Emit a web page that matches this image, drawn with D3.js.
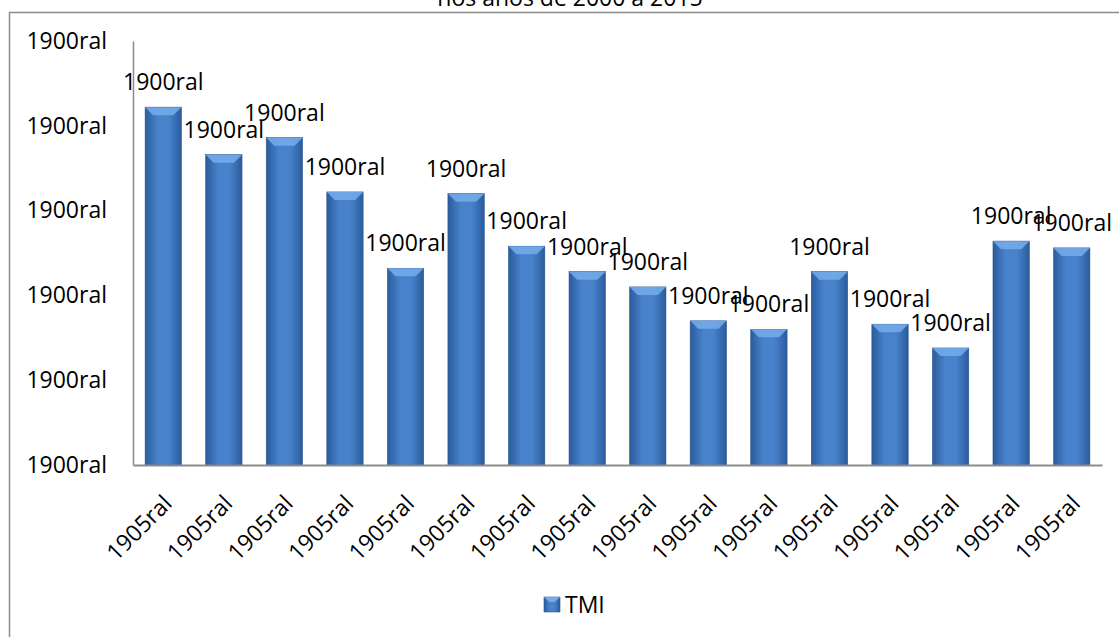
<!DOCTYPE html>
<html>
<head>
<meta charset="utf-8">
<script src="https://cdn.jsdelivr.net/npm/d3@7"></script>
<style>
  body { margin: 0; background: #fff; }
  text { font-family: 'Open Sans', sans-serif; fill: #000; }
</style>
</head>
<body>
<div class="chart-container"></div>
<script>
// data
const categories = ['2000', '2001', '2002', '2003', '2004', '2005', '2006', '2007',
  '2008', '2009', '2010', '2011', '2012', '2013', '2014', '2015'];
const tmiValues = [21.1, 18.3, 19.3, 16.1, 11.6, 16.0, 12.9, 11.4,
  10.5, 8.5, 8.0, 11.4, 8.3, 6.9, 13.2, 12.8];
const xTickLabels = categories.map(() => '1905ral');
const yTickValues = [0, 5, 10, 15, 20, 25];
const yTickLabels = ['1900ral', '1900ral', '1900ral', '1900ral', '1900ral', '1900ral'];
const valueLabels = tmiValues.map(() => '1900ral');
const seriesName = 'TMI';
const titleText = 'nos anos de 2000 a 2015';

const width = 1119;
const height = 637;
const margin = { top: 41, right: 17, bottom: 172, left: 133 };
const plotWidth = width - margin.left - margin.right;
const plotHeight = height - margin.top - margin.bottom;

const svg = d3.select('.chart-container')
    .append('svg')
    .attr('width', width)
    .attr('height', height);

const defs = svg.append('defs');
const grad = defs.append('linearGradient')
    .attr('id', 'barGrad')
    .attr('x1', '0%').attr('x2', '100%')
    .attr('y1', '0%').attr('y2', '0%');
grad.append('stop').attr('offset', '0%').attr('stop-color', '#2b5c9c');
grad.append('stop').attr('offset', '35%').attr('stop-color', '#4782cb');
grad.append('stop').attr('offset', '65%').attr('stop-color', '#4782cb');
grad.append('stop').attr('offset', '100%').attr('stop-color', '#2b5c9c');

// outer frame (top + left only visible)
svg.append('line')
    .attr('x1', 9).attr('x2', width)
    .attr('y1', 12.5).attr('y2', 12.5)
    .attr('stroke', '#8c8c8c').attr('stroke-width', 1.5);
svg.append('line')
    .attr('x1', 9.5).attr('x2', 9.5)
    .attr('y1', 12).attr('y2', height)
    .attr('stroke', '#8c8c8c').attr('stroke-width', 1.5);

// title (clipped at top)
svg.append('text')
    .attr('x', 570)
    .attr('y', 6)
    .style('text-anchor', 'middle')
    .style('font-size', '23px')
    .text(titleText);

const g = svg.append('g')
    .attr('transform', `translate(${margin.left}, ${margin.top})`);

// scales
const xScale = d3.scaleBand()
    .domain(categories)
    .range([0, plotWidth])
    .paddingInner(0.4)
    .paddingOuter(0.2);

const yScale = d3.scaleLinear()
    .domain([0, 25])
    .range([plotHeight, 0]);

// axes
const yAxis = d3.axisLeft(yScale)
    .tickValues(yTickValues)
    .tickSize(0)
    .tickPadding(26)
    .tickFormat((d, i) => yTickLabels[i]);

g.append('g')
    .attr('class', 'y-axis')
    .call(yAxis)
    .call(s => s.select('.domain').attr('stroke', '#8c8c8c').attr('stroke-width', 1.5))
    .selectAll('text')
    .style('font-size', '23px')
    .style('font-family', "'Open Sans', sans-serif");

// bars
const bw = xScale.bandwidth();
g.selectAll('.bar')
    .data(tmiValues)
    .enter().append('rect')
    .attr('class', 'bar')
    .attr('x', (d, i) => xScale(categories[i]))
    .attr('y', d => yScale(d))
    .attr('width', bw)
    .attr('height', d => plotHeight - yScale(d))
    .attr('fill', 'url(#barGrad)')
    .attr('stroke', '#2a5690')
    .attr('stroke-width', 0.6);

// top bevel
g.selectAll('.bevel')
    .data(tmiValues)
    .enter().append('path')
    .attr('class', 'bevel')
    .attr('d', (d, i) => {
        const x0 = xScale(categories[i]);
        const y0 = yScale(d);
        return `M${x0},${y0} L${x0 + bw},${y0} L${x0 + bw - 8},${y0 + 8} L${x0 + 8},${y0 + 8} Z`;
    })
    .attr('fill', '#72aae9')
    .attr('opacity', 0.9);

// x axis
const xAxis = d3.axisBottom(xScale)
    .tickSize(0)
    .tickFormat((d, i) => xTickLabels[i]);

g.append('g')
    .attr('class', 'x-axis')
    .attr('transform', `translate(0, ${plotHeight})`)
    .call(xAxis)
    .call(s => s.select('.domain').attr('stroke', '#8c8c8c').attr('stroke-width', 2))
    .selectAll('text')
    .style('font-size', '23px')
    .style('font-family', "'Open Sans', sans-serif")
    .style('text-anchor', 'end')
    .attr('y', 0)
    .attr('dx', '0')
    .attr('dy', '0')
    .attr('transform', 'translate(10, 40) rotate(-45)');

// value labels
g.selectAll('.value-label')
    .data(tmiValues)
    .enter().append('text')
    .attr('class', 'value-label')
    .attr('x', (d, i) => xScale(categories[i]) + bw / 2)
    .attr('y', d => yScale(d) - 17)
    .style('text-anchor', 'middle')
    .style('font-size', '23px')
    .text((d, i) => valueLabels[i]);

// legend
const legend = svg.append('g')
    .attr('transform', 'translate(544, 597)');
legend.append('rect')
    .attr('width', 16).attr('height', 15)
    .attr('fill', 'url(#barGrad)')
    .attr('stroke', '#2a5690').attr('stroke-width', 0.6);
legend.append('path')
    .attr('d', 'M0,0 L16,0 L11,5 L5,5 Z')
    .attr('fill', '#72aae9');
legend.append('text')
    .attr('x', 21)
    .attr('y', 16)
    .style('font-size', '23px')
    .text(seriesName);
</script>
</body>
</html>
